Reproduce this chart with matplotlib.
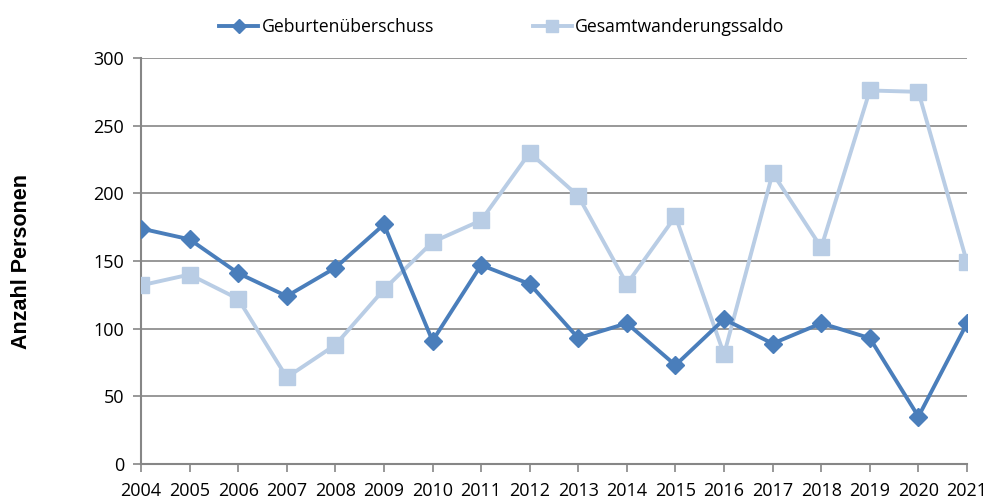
import matplotlib.pyplot as plt

years = list(range(2004, 2022))
geburten = [174, 166, 141, 124, 145, 177, 91, 147, 133, 93, 104, 73, 107, 89, 104, 93, 35, 104]
wanderung = [132, 140, 122, 64, 88, 129, 164, 180, 230, 198, 133, 183, 81, 215, 160, 276, 275, 149]

plt.rcParams['font.family'] = ['Open Sans', 'DejaVu Sans']

fig = plt.figure(figsize=(9.9, 5.01), dpi=100)
ax = fig.add_axes([141 / 990, 1 - 464 / 501, (967 - 141) / 990, (464 - 58) / 501])

ax.plot(years, geburten, color='#4a7ebb', lw=2.8, marker='D', markersize=9,
        label='Geburtenüberschuss', zorder=4)
ax.plot(years, wanderung, color='#b9cde5', lw=2.8, marker='s', markersize=11,
        label='Gesamtwanderungssaldo', zorder=3)

ax.set_xlim(2004, 2021)
ax.set_ylim(0, 300)
ax.set_yticks(range(0, 301, 50))
ax.set_xticks(years)
ax.tick_params(axis='both', labelsize=13, color='#868686', length=6, width=1.2)
ax.tick_params(axis='x', pad=7)
ax.tick_params(axis='y', pad=6)
ax.grid(axis='y', color='#868686', lw=1.2)
ax.set_axisbelow(True)
for s in ['top', 'right']:
    ax.spines[s].set_visible(False)
for s in ['left', 'bottom']:
    ax.spines[s].set_color('#868686')
    ax.spines[s].set_linewidth(1.5)

ax.set_ylabel('Anzahl Personen', fontsize=15.5, fontweight='bold',
              family='Liberation Sans', labelpad=44)

fig.legend(loc='upper center', bbox_to_anchor=(0.507, 0.995), ncol=2, frameon=False,
           fontsize=12.7, handlelength=2.2, columnspacing=5.6, handletextpad=0.2,
           markerscale=0.75)

fig.savefig('out.png', dpi=100)
